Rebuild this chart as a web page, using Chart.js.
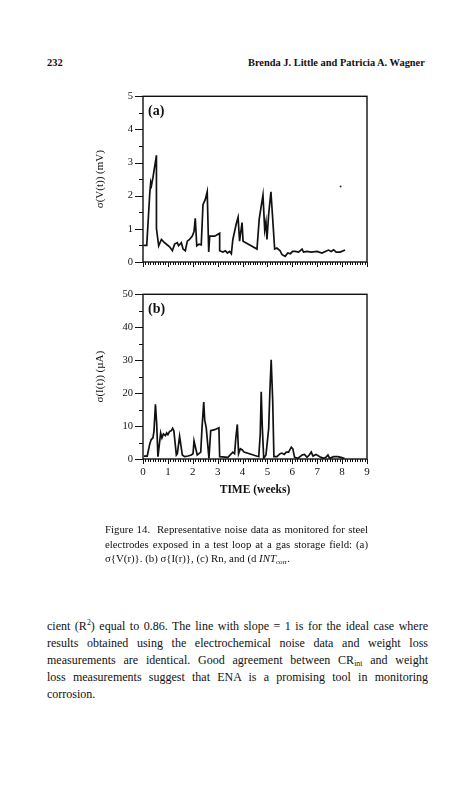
<!DOCTYPE html>
<html>
<head>
<meta charset="utf-8">
<script src="https://cdn.jsdelivr.net/npm/chart.js@4/dist/chart.umd.min.js"></script>
<style>
  body { margin: 0; background: #fff; }
  #page { position: relative; width: 469px; height: 800px; overflow: hidden; font-family: "Liberation Serif", "Times New Roman", serif; color: #111; }
  .abs { position: absolute; white-space: nowrap; }
  .head { font-weight: bold; font-size: 10.4px; top: 57px; }
  .cap { left: 105px; width: 263px; font-size: 10.8px; line-height: 14.5px; }
  .body { left: 47px; width: 381px; font-size: 12px; line-height: 17px; }
  .just { text-align: justify; text-align-last: justify; }
  sub { font-size: 65%; vertical-align: -2px; line-height: 0; }
  canvas { position: absolute; }
</style>
</head>
<body>
<div id="page">
  <div class="abs head" style="left:47px">232</div>
  <div class="abs head" style="left:248px">Brenda J. Little and Patricia A. Wagner</div>

  <canvas id="chartA" width="290" height="200" style="left:90px;top:80px"></canvas>
  <canvas id="chartB" width="290" height="222" style="left:90px;top:278px"></canvas>

  <div class="abs cap" style="top:522px">
    <div class="just">Figure 14.&nbsp; Representative noise data as monitored for steel</div>
    <div class="just">electrodes exposed in a test loop at a gas storage field: (a)</div>
    <div>σ{V(r)}. (b) σ{I(r)}, (c) Rn, and (d <i>INT</i><sub>corr</sub>.</div>
  </div>

  <div class="abs body" style="top:618px">
    <div class="just">cient (R<sup style="font-size:65%;line-height:0">2</sup>) equal to 0.86. The line with slope = 1 is for the ideal case where</div>
    <div class="just">results obtained using the electrochemical noise data and weight loss</div>
    <div class="just">measurements are identical. Good agreement between CR<sub>int</sub> and weight</div>
    <div class="just">loss measurements suggest that ENA is a promising tool in monitoring</div>
    <div>corrosion.</div>
  </div>
</div>

<script>
// (a) sigma of potential noise, mV
const weeksA = [0.02, 0.15, 0.27, 0.31, 0.34, 0.40, 0.54, 0.54, 0.63, 0.74, 0.87, 1.07, 1.18, 1.27, 1.38, 1.43, 1.54, 1.61, 1.70, 1.78, 1.87, 1.98, 2.05, 2.10, 2.16, 2.25, 2.34, 2.41, 2.50, 2.58, 2.64, 2.68, 2.88, 3.08, 3.08, 3.21, 3.31, 3.39, 3.48, 3.55, 3.61, 3.68, 3.75, 3.82, 3.88, 3.98, 4.02, 4.58, 4.67, 4.82, 4.89, 4.94, 4.98, 5.05, 5.14, 5.29, 5.38, 5.51, 5.58, 5.71, 5.82, 5.92, 6.01, 6.12, 6.25, 6.39, 6.45, 6.59, 6.76, 6.99, 7.19, 7.39, 7.46, 7.56, 7.66, 7.76, 7.92, 8.12];
const sigmaV = [0.50, 0.50, 2.05, 2.40, 2.31, 2.55, 3.22, 1.01, 0.49, 0.68, 0.58, 0.46, 0.34, 0.54, 0.58, 0.49, 0.58, 0.39, 0.34, 0.63, 0.68, 0.78, 0.92, 1.32, 0.49, 0.54, 0.52, 1.73, 1.88, 2.12, 0.30, 0.78, 0.78, 0.87, 0.34, 0.30, 0.34, 0.27, 0.32, 0.25, 0.68, 0.92, 1.16, 1.35, 0.63, 1.19, 0.63, 0.39, 1.30, 2.02, 0.97, 1.21, 0.68, 1.45, 2.12, 0.39, 0.42, 0.34, 0.23, 0.17, 0.27, 0.25, 0.32, 0.32, 0.30, 0.39, 0.30, 0.32, 0.30, 0.32, 0.27, 0.34, 0.36, 0.32, 0.37, 0.30, 0.30, 0.36];
// stray dot on the scan in panel (a)
const speckWeeks = [7.94];
const speckValues = [2.28];

// (b) sigma of current noise, uA
const weeksB = [0.04, 0.17, 0.27, 0.33, 0.40, 0.44, 0.50, 0.55, 0.60, 0.71, 0.76, 0.82, 0.90, 0.95, 1.00, 1.07, 1.14, 1.19, 1.24, 1.34, 1.38, 1.47, 1.58, 1.67, 1.81, 1.94, 2.01, 2.05, 2.10, 2.18, 2.32, 2.37, 2.44, 2.48, 2.54, 2.65, 2.72, 2.88, 3.05, 3.08, 3.41, 3.61, 3.68, 3.73, 3.79, 3.84, 3.91, 3.98, 4.06, 4.65, 4.71, 4.75, 4.79, 4.85, 4.94, 5.05, 5.10, 5.15, 5.21, 5.26, 5.38, 5.51, 5.58, 5.67, 5.76, 5.85, 5.96, 6.02, 6.09, 6.22, 6.39, 6.49, 6.59, 6.68, 6.76, 6.83, 6.95, 7.10, 7.26, 7.35, 7.43, 7.50, 7.66, 7.83, 7.99, 8.10];
const sigmaI = [0.9, 0.9, 4.5, 5.9, 6.4, 8.4, 16.6, 10.8, 0.7, 7.9, 6.4, 7.6, 7.1, 7.9, 7.4, 8.4, 8.6, 9.3, 8.6, 1.2, 1.6, 6.9, 1.2, 0.7, 0.9, 1.2, 1.6, 5.5, 3.8, 1.2, 2.1, 9.3, 17.3, 11.8, 9.5, 0.2, 8.6, 8.9, 9.5, 0.7, 0.5, 2.1, 1.6, 6.4, 10.5, 1.6, 3.1, 2.8, 2.1, 0.7, 7.4, 20.4, 10.3, 0.2, 1.2, 9.3, 20.9, 30.1, 18.0, 0.7, 0.7, 1.6, 1.8, 1.4, 2.1, 2.1, 3.6, 3.1, 0.5, 0.2, 1.2, 1.4, 0.5, 1.2, 2.1, 0.9, 1.4, 0.7, 0.2, 0.5, 1.2, 0.2, 0.7, 0.7, 0.4, 0.1];

const xMin = 0, xMax = 9, xStep = 0.1;
const yMaxA = 5, yStepA = 0.5, yLabelEveryA = 1;
const yMaxB = 50, yStepB = 5, yLabelEveryB = 10;

const ink = '#111';
Chart.defaults.font.family = '"Liberation Serif", "Times New Roman", serif';
Chart.defaults.color = ink;

function toPoints(xs, ys) {
    return xs.map((x, i) => ({ x: x, y: ys[i] }));
}

function isMultiple(v, step) {
    return Math.abs(v / step - Math.round(v / step)) < 1e-6;
}

// box around the plot, hand-drawn tick marks (major/minor) and the panel letter
const framePlugin = {
    id: 'frame',
    afterDraw(chart, args, opts) {
        const ctx = chart.ctx;
        const area = chart.chartArea;
        const xs = chart.scales.x;
        const ys = chart.scales.y;
        ctx.save();
        ctx.strokeStyle = ink;
        ctx.lineWidth = 1.4;
        ctx.strokeRect(area.left, area.top, area.right - area.left, area.bottom - area.top);

        ctx.lineWidth = 1;
        ctx.beginPath();
        xs.ticks.forEach(t => {
            const px = Math.round(xs.getPixelForValue(t.value)) + 0.5;
            const len = isMultiple(t.value, 1) ? 5 : 3;
            ctx.moveTo(px, area.bottom);
            ctx.lineTo(px, area.bottom + len);
        });
        ys.ticks.forEach(t => {
            const py = Math.round(ys.getPixelForValue(t.value)) + 0.5;
            const len = isMultiple(t.value, opts.labelEvery) ? 8 : 4;
            ctx.moveTo(area.left, py);
            ctx.lineTo(area.left - len, py);
        });
        ctx.stroke();

        ctx.fillStyle = ink;
        ctx.font = 'bold 14px "Liberation Serif", serif';
        ctx.textBaseline = 'middle';
        ctx.fillText(opts.letter, area.left + 5, area.top + 15);
        ctx.restore();
    }
};

function makeChart(id, datasets, yMax, yStep, labelEvery, yTitle, letter, showX) {
    return new Chart(document.getElementById(id), {
        type: 'line',
        data: { datasets: datasets },
        options: {
            responsive: false,
            animation: false,
            layout: { padding: { top: 8, right: 13, bottom: 0, left: 0 } },
            plugins: {
                legend: { display: false },
                tooltip: { enabled: false },
                frame: { letter: letter, labelEvery: labelEvery }
            },
            scales: {
                x: {
                    type: 'linear',
                    min: xMin,
                    max: xMax,
                    grid: { display: false, drawTicks: false },
                    border: { display: false },
                    ticks: {
                        stepSize: xStep,
                        autoSkip: false,
                        maxRotation: 0,
                        padding: 7,
                        font: { size: 11 },
                        callback: v => (showX && isMultiple(v, 1)) ? String(Math.round(v)) : ''
                    },
                    title: {
                        display: showX,
                        text: 'TIME (weeks)',
                        font: { size: 11.5, weight: 'bold' },
                        padding: { top: 0, bottom: 3 }
                    },
                    afterFit: s => { s.height = showX ? 41 : 18; }
                },
                y: {
                    min: 0,
                    max: yMax,
                    grid: { display: false, drawTicks: false },
                    border: { display: false },
                    ticks: {
                        stepSize: yStep,
                        autoSkip: false,
                        padding: 10,
                        font: { size: 10.5 },
                        callback: v => isMultiple(v, labelEvery) ? String(Math.round(v)) : ''
                    },
                    title: {
                        display: true,
                        text: yTitle,
                        font: { size: 11 },
                        padding: { top: 4, bottom: 0 }
                    },
                    afterFit: s => { s.width = 53; }
                }
            }
        },
        plugins: [framePlugin]
    });
}

const lineStyle = {
    borderColor: ink,
    borderWidth: 1.7,
    pointRadius: 0,
    tension: 0,
    fill: false
};

makeChart('chartA', [
    Object.assign({ label: 'σ(V(t))', data: toPoints(weeksA, sigmaV) }, lineStyle),
    { label: 'speck', type: 'scatter', data: toPoints(speckWeeks, speckValues), pointRadius: 1, backgroundColor: '#333', borderWidth: 0 }
], yMaxA, yStepA, yLabelEveryA, 'σ(V(t)) (mV)', '(a)', false);

makeChart('chartB', [
    Object.assign({ label: 'σ(I(t))', data: toPoints(weeksB, sigmaI) }, lineStyle)
], yMaxB, yStepB, yLabelEveryB, 'σ(I(t)) (µA)', '(b)', true);
</script>
</body>
</html>
